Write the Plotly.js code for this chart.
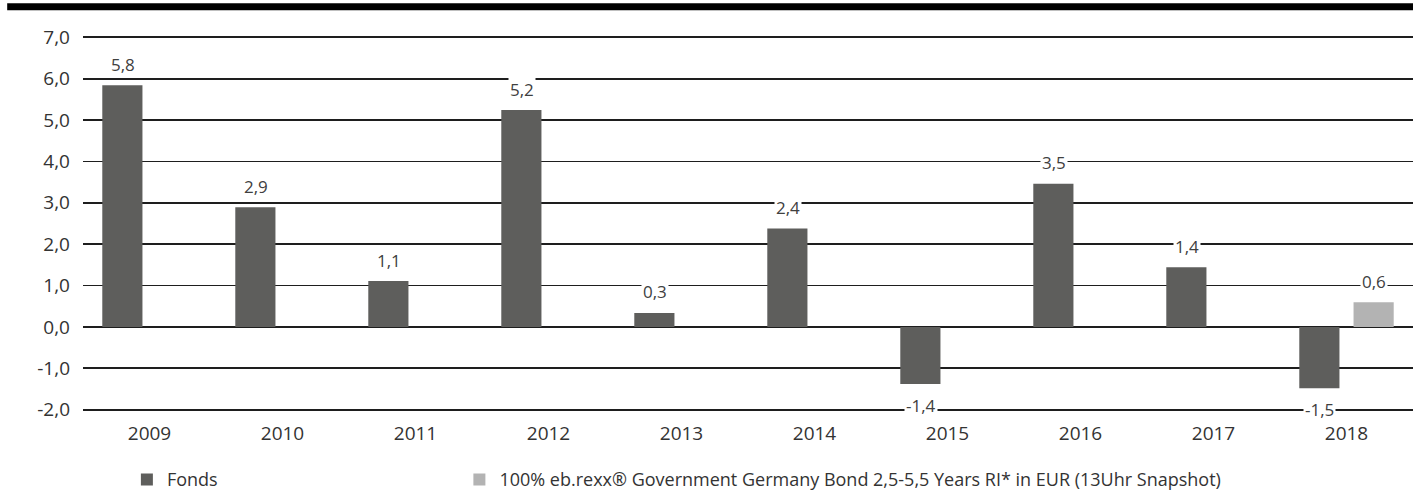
<!DOCTYPE html>
<html>
<head>
<meta charset="utf-8">
<script src="https://cdn.plot.ly/plotly-3.0.1.min.js"></script>
<style>
html,body{margin:0;padding:0;background:#fff;}
#chart{width:1419px;height:490px;}
</style>
</head>
<body>
<div id="chart"></div>
<script>
const years = ["2009","2010","2011","2012","2013","2014","2015","2016","2017","2018"];
const fondsValues = [5.84, 2.89, 1.11, 5.24, 0.34, 2.38, -1.38, 3.46, 1.44, -1.48];
const benchValues = [null, null, null, null, null, null, null, null, null, 0.60];
const fondsName = "Fonds";
const benchName = "100% eb.rexx® Government Germany Bond 2,5-5,5 Years RI* in EUR (13Uhr Snapshot)";
const yTicks = [-2, -1, 0, 1, 2, 3, 4, 5, 6, 7];

const FONT = "'Open Sans', 'Noto Sans', sans-serif";
const fmt = v => v.toFixed(1).replace('.', ',');

const traces = [
  {type:'bar', name:fondsName, x:years, y:fondsValues, marker:{color:'#5e5e5c'}, hoverinfo:'skip', legend:'legend'},
  {type:'bar', name:benchName, x:years, y:benchValues, marker:{color:'#b3b3b3'}, hoverinfo:'skip', legend:'legend2'}
];

const annotations = [];
function addLabels(vals, shift){
  vals.forEach((v,i)=>{
    if(v===null) return;
    annotations.push({
      x: i, y: v, xref:'x', yref:'y', text: fmt(v), showarrow:false,
      xshift: shift, yshift: v >= 0 ? 21 : -21, yanchor:'middle',
      font:{family:FONT, size:17, color:'#404040'}, bgcolor:'#ffffff', borderpad:1
    });
  });
}
addLabels(fondsValues, -27);
addLabels(benchValues, 27);

const legendFont = {family:FONT, size:18, color:'#333333'};
const layout = {
  width:1419, height:490,
  margin:{l:83, r:6, t:36, b:79},
  paper_bgcolor:'#ffffff', plot_bgcolor:'#ffffff',
  separators:', ',
  font:{family:FONT, size:19, color:'#333333'},
  barmode:'group', bargap:0.184, bargroupgap:0.26,
  showlegend:true,
  legend:{orientation:'h', x:0.033, xanchor:'left', xref:'paper', yref:'container', y:0.021, yanchor:'middle', font:legendFont},
  legend2:{orientation:'h', x:0.283, xanchor:'left', xref:'paper', yref:'container', y:0.021, yanchor:'middle', font:legendFont},
  xaxis:{type:'category', range:[-0.5, 9.5], showgrid:false, zeroline:false, showline:false, ticks:'',
         tickfont:{family:FONT, size:19, color:'#333333'}, ticklabelstandoff:9},
  yaxis:{range:[-2.03, 7.03], tickvals:yTicks, ticktext:yTicks.map(fmt), showgrid:true, gridcolor:'#1e1e1e', gridwidth:1.8,
         zeroline:true, zerolinecolor:'#1e1e1e', zerolinewidth:1.8, showline:false, ticks:'',
         tickfont:{family:FONT, size:19, color:'#333333'}, ticklabelstandoff:12, fixedrange:true},
  shapes:[{type:'line', xref:'paper', yref:'paper', x0:-0.057, x1:1.0, y0:1.078, y1:1.078,
           line:{color:'#000000', width:7}}],
  annotations:annotations
};

Plotly.newPlot('chart', traces, layout, {displayModeBar:false, staticPlot:true});
</script>
</body>
</html>
